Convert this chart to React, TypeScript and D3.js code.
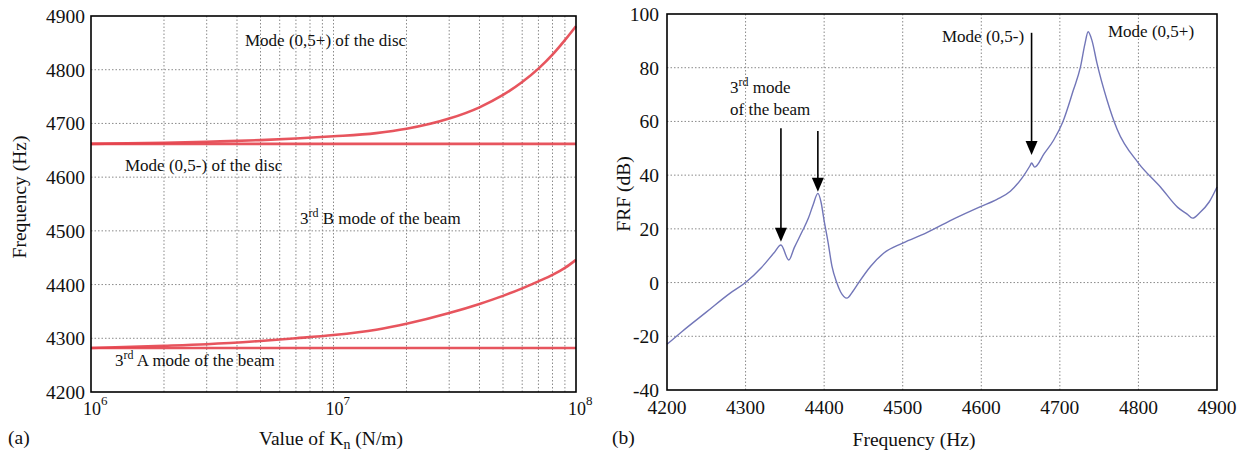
import React from 'react'
import * as d3 from 'd3'

// (a) natural frequencies vs. contact stiffness Kn
const kn = [1e6, 2e6, 3e6, 5e6, 7e6, 1e7, 1.5e7, 2e7, 3e7, 4e7, 5e7, 6e7, 7e7, 8e7, 9e7, 1e8]
const modePlus = [4662, 4664, 4666, 4669, 4672, 4676, 4682, 4690, 4709, 4730, 4753, 4777, 4802, 4828, 4855, 4881]
const modeMinus = [4662, 4662, 4662, 4662, 4662, 4662, 4662, 4662, 4662, 4662, 4662, 4662, 4662, 4662, 4662, 4662]
const beamB = [4282, 4286, 4289, 4295, 4300, 4306, 4316, 4327, 4347, 4364, 4379, 4393, 4406, 4418, 4431, 4446]
const beamA = [4282, 4282, 4282, 4282, 4282, 4282, 4282, 4282, 4282, 4282, 4282, 4282, 4282, 4282, 4282, 4282]
const yTicksA = [4200, 4300, 4400, 4500, 4600, 4700, 4800, 4900]
const xExpA = [6, 7, 8]

// (b) FRF
const freq = [4200, 4220, 4250, 4280, 4300, 4320, 4336, 4345, 4355, 4362, 4372, 4380, 4386, 4392, 4396, 4400, 4405, 4410, 4416, 4421, 4429, 4436, 4444, 4459, 4476, 4500, 4530, 4567, 4599, 4620, 4637, 4652, 4662, 4664, 4668, 4680, 4692, 4704, 4717, 4726, 4732, 4736, 4741, 4747, 4760, 4773, 4800, 4828, 4850, 4862, 4869, 4878, 4890, 4900]
const frf = [-23, -18, -11, -4, 0, 5.5, 11, 14, 8.4, 13, 19, 24, 29, 33.2, 30, 23, 15, 6, 0, -3.5, -5.8, -3.5, 0, 6, 11, 14.7, 18.5, 24, 28.3, 31, 34, 39, 43.5, 44.5, 43, 48, 53, 60, 71.5, 80, 89, 93.4, 90, 82, 68, 57, 44.5, 35.6, 28, 25.5, 24, 26, 30, 35.6]
const xTicksB = [4200, 4300, 4400, 4500, 4600, 4700, 4800, 4900]
const yTicksB = [-40, -20, 0, 20, 40, 60, 80, 100]
const arrowFreq = [4345, 4392, 4664]
const arrowTop = [57.5, 56.4, 93]
const arrowTip = [15.2, 33.8, 47.5]

const font = "'Times New Roman', 'Liberation Serif', Tinos, 'DejaVu Serif', serif"
const gridColor = '#8a8a8a'

export default function App() {
  const xL = d3.scaleLog().domain([1e6, 1e8]).range([91, 576])
  const yL = d3.scaleLinear().domain([4200, 4900]).range([392, 16])
  const xR = d3.scaleLinear().domain([4200, 4900]).range([667, 1217])
  const yR = d3.scaleLinear().domain([-40, 100]).range([390, 14])

  const logGrid = xL.ticks().filter(v => v > 1e6 && v < 1e8)

  const lineA = (vals: number[]) =>
    d3.line<number>()
      .x((_, i) => xL(kn[i]))
      .y(d => yL(d))
      .curve(d3.curveMonotoneX)(vals) || ''

  const lineB = d3.line<number>()
    .x((_, i) => xR(freq[i]))
    .y(d => yR(d))
    .curve(d3.curveMonotoneX)(frf) || ''

  return (
    <svg width={1252} height={451} fontFamily={font} fill="#111"
      style={{ position: 'absolute', left: 0, top: 0, background: '#fff' }}>
      {/* ---------- (a) ---------- */}
      <g stroke={gridColor} strokeWidth={1} strokeDasharray="1.5,2">
        {logGrid.map(v => (
          <line key={'gv' + v} x1={xL(v)} x2={xL(v)} y1={yL(4900)} y2={yL(4200)} />
        ))}
        {yTicksA.slice(1, -1).map(v => (
          <line key={'gh' + v} x1={xL(1e6)} x2={xL(1e8)} y1={yL(v)} y2={yL(v)} />
        ))}
      </g>
      {[modeMinus, beamA, modePlus, beamB].map((s, i) => (
        <path key={'s' + i} d={lineA(s)} fill="none" stroke="#e4434c" strokeWidth={2.6} strokeOpacity={0.9} />
      ))}
      <rect x={xL(1e6)} y={yL(4900)} width={xL(1e8) - xL(1e6)} height={yL(4200) - yL(4900)}
        fill="none" stroke="#000" strokeWidth={1.6} />
      {yTicksA.map(v => (
        <text key={'ya' + v} x={85} y={yL(v) + 7} textAnchor="end" fontSize={19.5}>{v}</text>
      ))}
      {xExpA.map(e => (
        <text key={'xa' + e} x={xL(Math.pow(10, e)) - 8} y={415} fontSize={18}>
          10<tspan dy={-10} fontSize={13}>{e}</tspan>
        </text>
      ))}
      <text x={0} y={0} transform="translate(26,197) rotate(-90)" textAnchor="middle" fontSize={19.5}>Frequency (Hz)</text>
      <text x={331} y={445} textAnchor="middle" fontSize={19.5}>
        Value of K<tspan dy={4} fontSize={14}>n</tspan><tspan dy={-4}> (N/m)</tspan>
      </text>
      <text x={8} y={444} fontSize={19.5}>(a)</text>

      <text x={245} y={46} fontSize={17}>Mode (0,5+) of the disc</text>
      <text x={125} y={171} fontSize={17}>Mode (0,5-) of the disc</text>
      <text x={300} y={224} fontSize={17}>
        3<tspan dy={-7} fontSize={12}>rd</tspan><tspan dy={7}> B mode of the beam</tspan>
      </text>
      <text x={115} y={366} fontSize={17}>
        3<tspan dy={-7} fontSize={12}>rd</tspan><tspan dy={7}> A mode of the beam</tspan>
      </text>

      {/* ---------- (b) ---------- */}
      <g stroke={gridColor} strokeWidth={1} strokeDasharray="1.5,2">
        {xTicksB.slice(1, -1).map(v => (
          <line key={'bv' + v} x1={xR(v)} x2={xR(v)} y1={yR(100)} y2={yR(-40)} />
        ))}
        {yTicksB.slice(1, -1).map(v => (
          <line key={'bh' + v} x1={xR(4200)} x2={xR(4900)} y1={yR(v)} y2={yR(v)} />
        ))}
      </g>
      <path d={lineB} fill="none" stroke="#7276b8" strokeWidth={1.4} />
      <rect x={xR(4200)} y={yR(100)} width={xR(4900) - xR(4200)} height={yR(-40) - yR(100)}
        fill="none" stroke="#000" strokeWidth={1.6} />
      {yTicksB.map(v => (
        <text key={'yb' + v} x={659} y={yR(v) + 7} textAnchor="end" fontSize={19.5}>{v}</text>
      ))}
      {xTicksB.map(v => (
        <text key={'xb' + v} x={xR(v)} y={414} textAnchor="middle" fontSize={19.5}>{v}</text>
      ))}
      <text x={0} y={0} transform="translate(630,194) rotate(-90)" textAnchor="middle" fontSize={19.5}>FRF (dB)</text>
      <text x={914} y={446} textAnchor="middle" fontSize={19.5}>Frequency (Hz)</text>
      <text x={612} y={444} fontSize={19.5}>(b)</text>

      {arrowFreq.map((f, i) => {
        const x = xR(f)
        const tip = yR(arrowTip[i])
        return (
          <g key={'ar' + i}>
            <line x1={x} x2={x} y1={yR(arrowTop[i])} y2={tip - 10} stroke="#000" strokeWidth={1.6} />
            <path d={`M${x - 6},${tip - 14}L${x + 6},${tip - 14}L${x},${tip}Z`} fill="#000" />
          </g>
        )
      })}
      <text x={730} y={93} fontSize={17}>
        3<tspan dy={-7} fontSize={12}>rd</tspan><tspan dy={7}> mode</tspan>
      </text>
      <text x={730} y={115} fontSize={17}>of the beam</text>
      <text x={942} y={42} fontSize={17}>Mode (0,5-)</text>
      <text x={1108} y={37} fontSize={17}>Mode (0,5+)</text>
    </svg>
  )
}
